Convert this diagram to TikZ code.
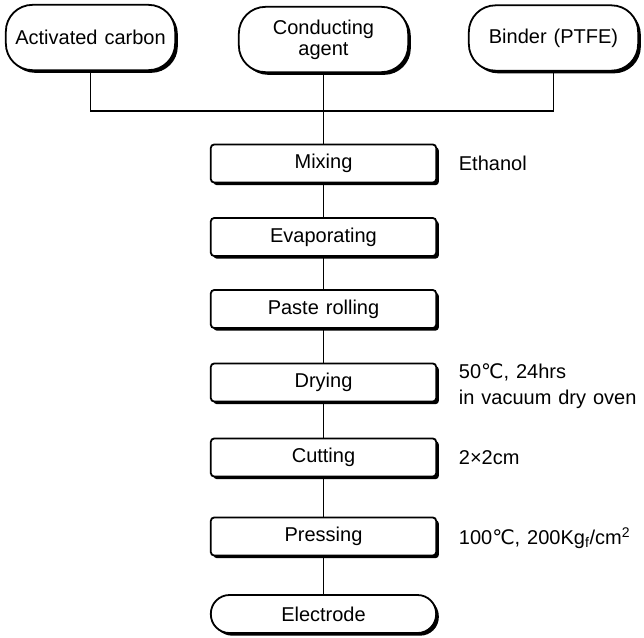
\documentclass[tikz,border=0pt]{standalone}
\usepackage{fontspec}
\setmainfont[WordSpace=1.25]{Liberation Sans}
\newfontfamily\symfont{DejaVu Sans}
\usetikzlibrary{shadows}
\newcommand{\degc}{{\symfont ℃}}

\tikzset{every picture/.style={line width=1.35pt}}
\tikzset{
  blackshadow/.style={drop shadow={shadow xshift=2pt, shadow yshift=-2pt, opacity=1, fill=black}},
  source/.style={draw, fill=white, rounded corners=20pt, minimum width=127pt, minimum height=49pt, align=center, blackshadow},
  stepbox/.style={draw, fill=white, rounded corners=2.5pt, minimum width=169pt, minimum height=28.5pt, blackshadow},
  endbox/.style={stepbox, rounded corners=14pt},
  note/.style={anchor=west, inner sep=0pt, align=left}
}

\begin{document}
\begin{tikzpicture}[x=0.75pt,y=0.75pt,yscale=-1,xscale=1,font=\fontsize{15}{16}\selectfont]
\useasboundingbox (0,0) rectangle (644,637);

% raw materials
\node[source] (carbon) at (90.5,37.5) {Activated carbon};
\node[source] (agent) at (323.5,39.5) {Conducting\\agent};
\node[source] (binder) at (553.5,38) {Binder (PTFE)};

% process steps
\node[stepbox] (mixing) at (323.5,163.5) {Mixing};
\node[stepbox] (evaporating) at (323.5,237) {Evaporating};
\node[stepbox] (rolling) at (323.5,309) {Paste rolling};
\node[stepbox] (drying) at (323.5,382.5) {Drying};
\node[stepbox] (cutting) at (323.5,457.5) {Cutting};
\node[stepbox] (pressing) at (323.5,536.5) {Pressing};
\node[endbox] (electrode) at (323.5,614) {Electrode};

% conditions
\node[note] (ethanol) at (458,163) {Ethanol};
\node[note] (oven) at (458,386.5) {50\degc, 24hrs\\[3.5pt]in vacuum dry oven};
\node[note] (size) at (458,458) {2×2cm};
\node[note] (load) at (458,538) {100\degc, 200Kg\textsubscript{f}/cm\textsuperscript{2}};

% connectors
\coordinate (join) at (323.5,111);
\draw (carbon) |- (join) -| (binder);
\draw (agent) -- (mixing);
\draw (mixing) -- (evaporating);
\draw (evaporating) -- (rolling);
\draw (rolling) -- (drying);
\draw (drying) -- (cutting);
\draw (cutting) -- (pressing);
\draw (pressing) -- (electrode);

\end{tikzpicture}
\end{document}
